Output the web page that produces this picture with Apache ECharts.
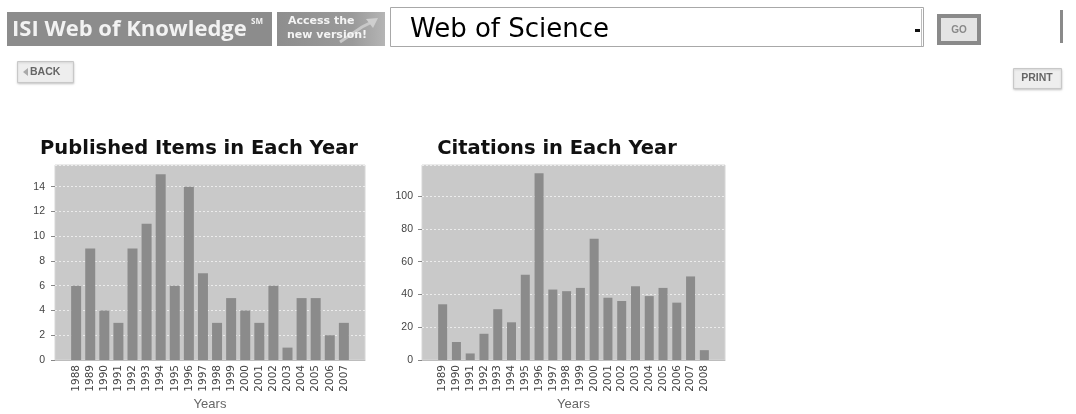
<!DOCTYPE html>
<html>
<head>
<meta charset="utf-8">
<script src="https://cdn.jsdelivr.net/npm/echarts@6/dist/echarts.min.js"></script>
<style>
html,body{margin:0;padding:0;background:#fff;}
#c{width:1076px;height:414px;}
</style>
</head>
<body>
<div id="c"></div>
<script>
// ---- data ----
const itemYears = ['1988','1989','1990','1991','1992','1993','1994','1995','1996','1997','1998','1999','2000','2001','2002','2003','2004','2005','2006','2007'];
const itemCounts = [6, 9, 4, 3, 9, 11, 15, 6, 14, 7, 3, 5, 4, 3, 6, 1, 5, 5, 2, 3];
const citeYears = ['1989','1990','1991','1992','1993','1994','1995','1996','1997','1998','1999','2000','2001','2002','2003','2004','2005','2006','2007','2008'];
const citeCounts = [34, 11, 4, 16, 31, 23, 52, 114, 43, 42, 44, 74, 38, 36, 45, 39, 44, 35, 51, 6];
const itemTickStep = 2;
const citeTickStep = 20;
const itemMax = 15.75;
const citeMax = 119;
const titles = ['Published Items in Each Year', 'Citations in Each Year'];
const axisName = 'Years';

// pad categories with an empty slot at each end (plot margin, as in the original)
const pad = arr => [''].concat(arr, ['']);
const padV = arr => [null].concat(arr, [null]);

const chart = echarts.init(document.getElementById('c'), null, {renderer: 'canvas'});

const BG = '#c9c9c9', BAR = '#8b8b8b';
function xAx(i, cats) {
  return {
    type: 'category', gridIndex: i, data: pad(cats),
    axisTick: {show: false},
    axisLine: {show: true, lineStyle: {color: '#bdbdbd'}},
    axisLabel: {interval: 0, rotate: 90, margin: 5, fontFamily: 'DejaVu Sans', fontSize: 10.5, color: '#444'},
    name: axisName, nameLocation: 'middle', nameGap: 38,
    nameTextStyle: {fontFamily: 'Liberation Sans', fontSize: 13, color: '#666'}
  };
}
function yAx(i, max, step, margin) {
  return {
    type: 'value', gridIndex: i, min: 0, max: max, interval: step,
    axisLine: {show: false},
    axisTick: {show: true, length: 4, lineStyle: {color: '#888'}},
    axisLabel: {showMaxLabel: false, margin: margin, fontFamily: 'Liberation Sans', fontSize: 10.5, color: '#444',
      formatter: v => (v % step === 0 ? String(v) : '')},
    splitLine: {show: true, lineStyle: {color: '#ececec', type: [2, 2], width: 1}}
  };
}
const textStyle = (s) => Object.assign({fontFamily: 'DejaVu Sans'}, s);
const titleStyle = {fontFamily: 'DejaVu Sans', fontWeight: 'bold', fontSize: 19.5, color: '#111'};

chart.setOption({
  animation: false,
  backgroundColor: '#fff',
  title: [
    {text: titles[0], left: 194, top: 134, textAlign: 'center', textStyle: titleStyle},
    {text: titles[1], left: 552, top: 134, textAlign: 'center', textStyle: titleStyle}
  ],
  grid: [
    {left: 55, top: 165, width: 310, height: 195, show: true, backgroundColor: BG, borderColor: '#d6d6d6', borderWidth: 1},
    {left: 422, top: 165, width: 303, height: 195, show: true, backgroundColor: BG, borderColor: '#d6d6d6', borderWidth: 1}
  ],
  xAxis: [xAx(0, itemYears), xAx(1, citeYears)],
  yAxis: [yAx(0, itemMax, itemTickStep, 10), yAx(1, citeMax, citeTickStep, 9)],
  series: [
    {type: 'bar', xAxisIndex: 0, yAxisIndex: 0, data: padV(itemCounts), barWidth: 10, itemStyle: {color: BAR}},
    {type: 'bar', xAxisIndex: 1, yAxisIndex: 1, data: padV(citeCounts), barWidth: 9, itemStyle: {color: BAR}}
  ],
  graphic: [
    // banner
    {type: 'rect', shape: {x: 7, y: 12, width: 265, height: 34}, style: {fill: '#8c8c8c'}},
    {type: 'text', x: 12, y: 30, style: textStyle({text: 'ISI Web of Knowledge', fontFamily: 'Open Sans', fontWeight: 'bold', fontSize: 22, fill: '#f2f2f2', verticalAlign: 'middle'})},
    {type: 'text', x: 251, y: 22, style: textStyle({text: 'SM', fontFamily: 'Open Sans', fontWeight: 'bold', fontSize: 8, fill: '#f2f2f2', verticalAlign: 'middle'})},
    // access new version
    {type: 'rect', shape: {x: 277, y: 12, width: 108, height: 34},
     style: {fill: new echarts.graphic.LinearGradient(0, 0, 1, 0, [{offset: 0, color: '#8e8e8e'}, {offset: 0.7, color: '#9a9a9a'}, {offset: 1, color: '#b5b5b5'}])}},
    {type: 'polyline', shape: {points: [[340, 42], [362, 27], [372, 22]]}, style: {stroke: '#c8c8c8', lineWidth: 3}},
    {type: 'polygon', shape: {points: [[366, 19], [378, 18], [373, 28]]}, style: {fill: '#cfcfcf'}},
    {type: 'text', x: 288, y: 21, style: textStyle({text: 'Access the', fontWeight: 'bold', fontSize: 11, fill: '#f4f4f4', verticalAlign: 'middle'})},
    {type: 'text', x: 287, y: 35, style: textStyle({text: 'new version!', fontWeight: 'bold', fontSize: 11, fill: '#f4f4f4', verticalAlign: 'middle'})},
    // select box
    {type: 'rect', shape: {x: 390.5, y: 7.5, width: 533, height: 39}, style: {fill: '#fff', stroke: '#a8a8a8', lineWidth: 1}},
    {type: 'line', shape: {x1: 921.5, y1: 9, x2: 921.5, y2: 46}, style: {stroke: '#bdbdbd', lineWidth: 1}},
    {type: 'text', x: 410, y: 30, style: textStyle({text: 'Web of Science', fontSize: 26, fill: '#000', verticalAlign: 'middle'})},
    {type: 'rect', shape: {x: 915, y: 29, width: 5, height: 3}, style: {fill: '#111'}},
    // GO button
    {type: 'rect', shape: {x: 939, y: 16, width: 40, height: 27}, style: {fill: '#e4e4e4', stroke: '#8a8a8a', lineWidth: 4}},
    {type: 'text', x: 959, y: 30, style: textStyle({text: 'GO', fontFamily: 'Liberation Sans', fontWeight: 'bold', fontSize: 10, fill: '#888', align: 'center', verticalAlign: 'middle'})},
    // right edge element
    {type: 'rect', shape: {x: 1060, y: 10, width: 3, height: 33}, style: {fill: '#8a8a8a'}},
    // BACK button
    {type: 'rect', shape: {x: 17.5, y: 61.5, width: 56, height: 21}, style: {fill: '#eeeeee', stroke: '#c8c8c8', lineWidth: 1, shadowColor: 'rgba(0,0,0,0.15)', shadowOffsetY: 1, shadowBlur: 2}},
    {type: 'polygon', shape: {points: [[28, 68], [28, 76], [23, 72]]}, style: {fill: '#aaa'}},
    {type: 'text', x: 30, y: 72, style: textStyle({text: 'BACK', fontFamily: 'Liberation Sans', fontWeight: 'bold', fontSize: 10.5, fill: '#666', verticalAlign: 'middle'})},
    // PRINT button
    {type: 'rect', shape: {x: 1013.5, y: 68.5, width: 48, height: 20}, style: {fill: '#eeeeee', stroke: '#c8c8c8', lineWidth: 1, shadowColor: 'rgba(0,0,0,0.15)', shadowOffsetY: 1, shadowBlur: 2}},
    {type: 'text', x: 1037, y: 78, style: textStyle({text: 'PRINT', fontFamily: 'Liberation Sans', fontWeight: 'bold', fontSize: 10.5, fill: '#666', align: 'center', verticalAlign: 'middle'})}
  ]
});
</script>
</body>
</html>
